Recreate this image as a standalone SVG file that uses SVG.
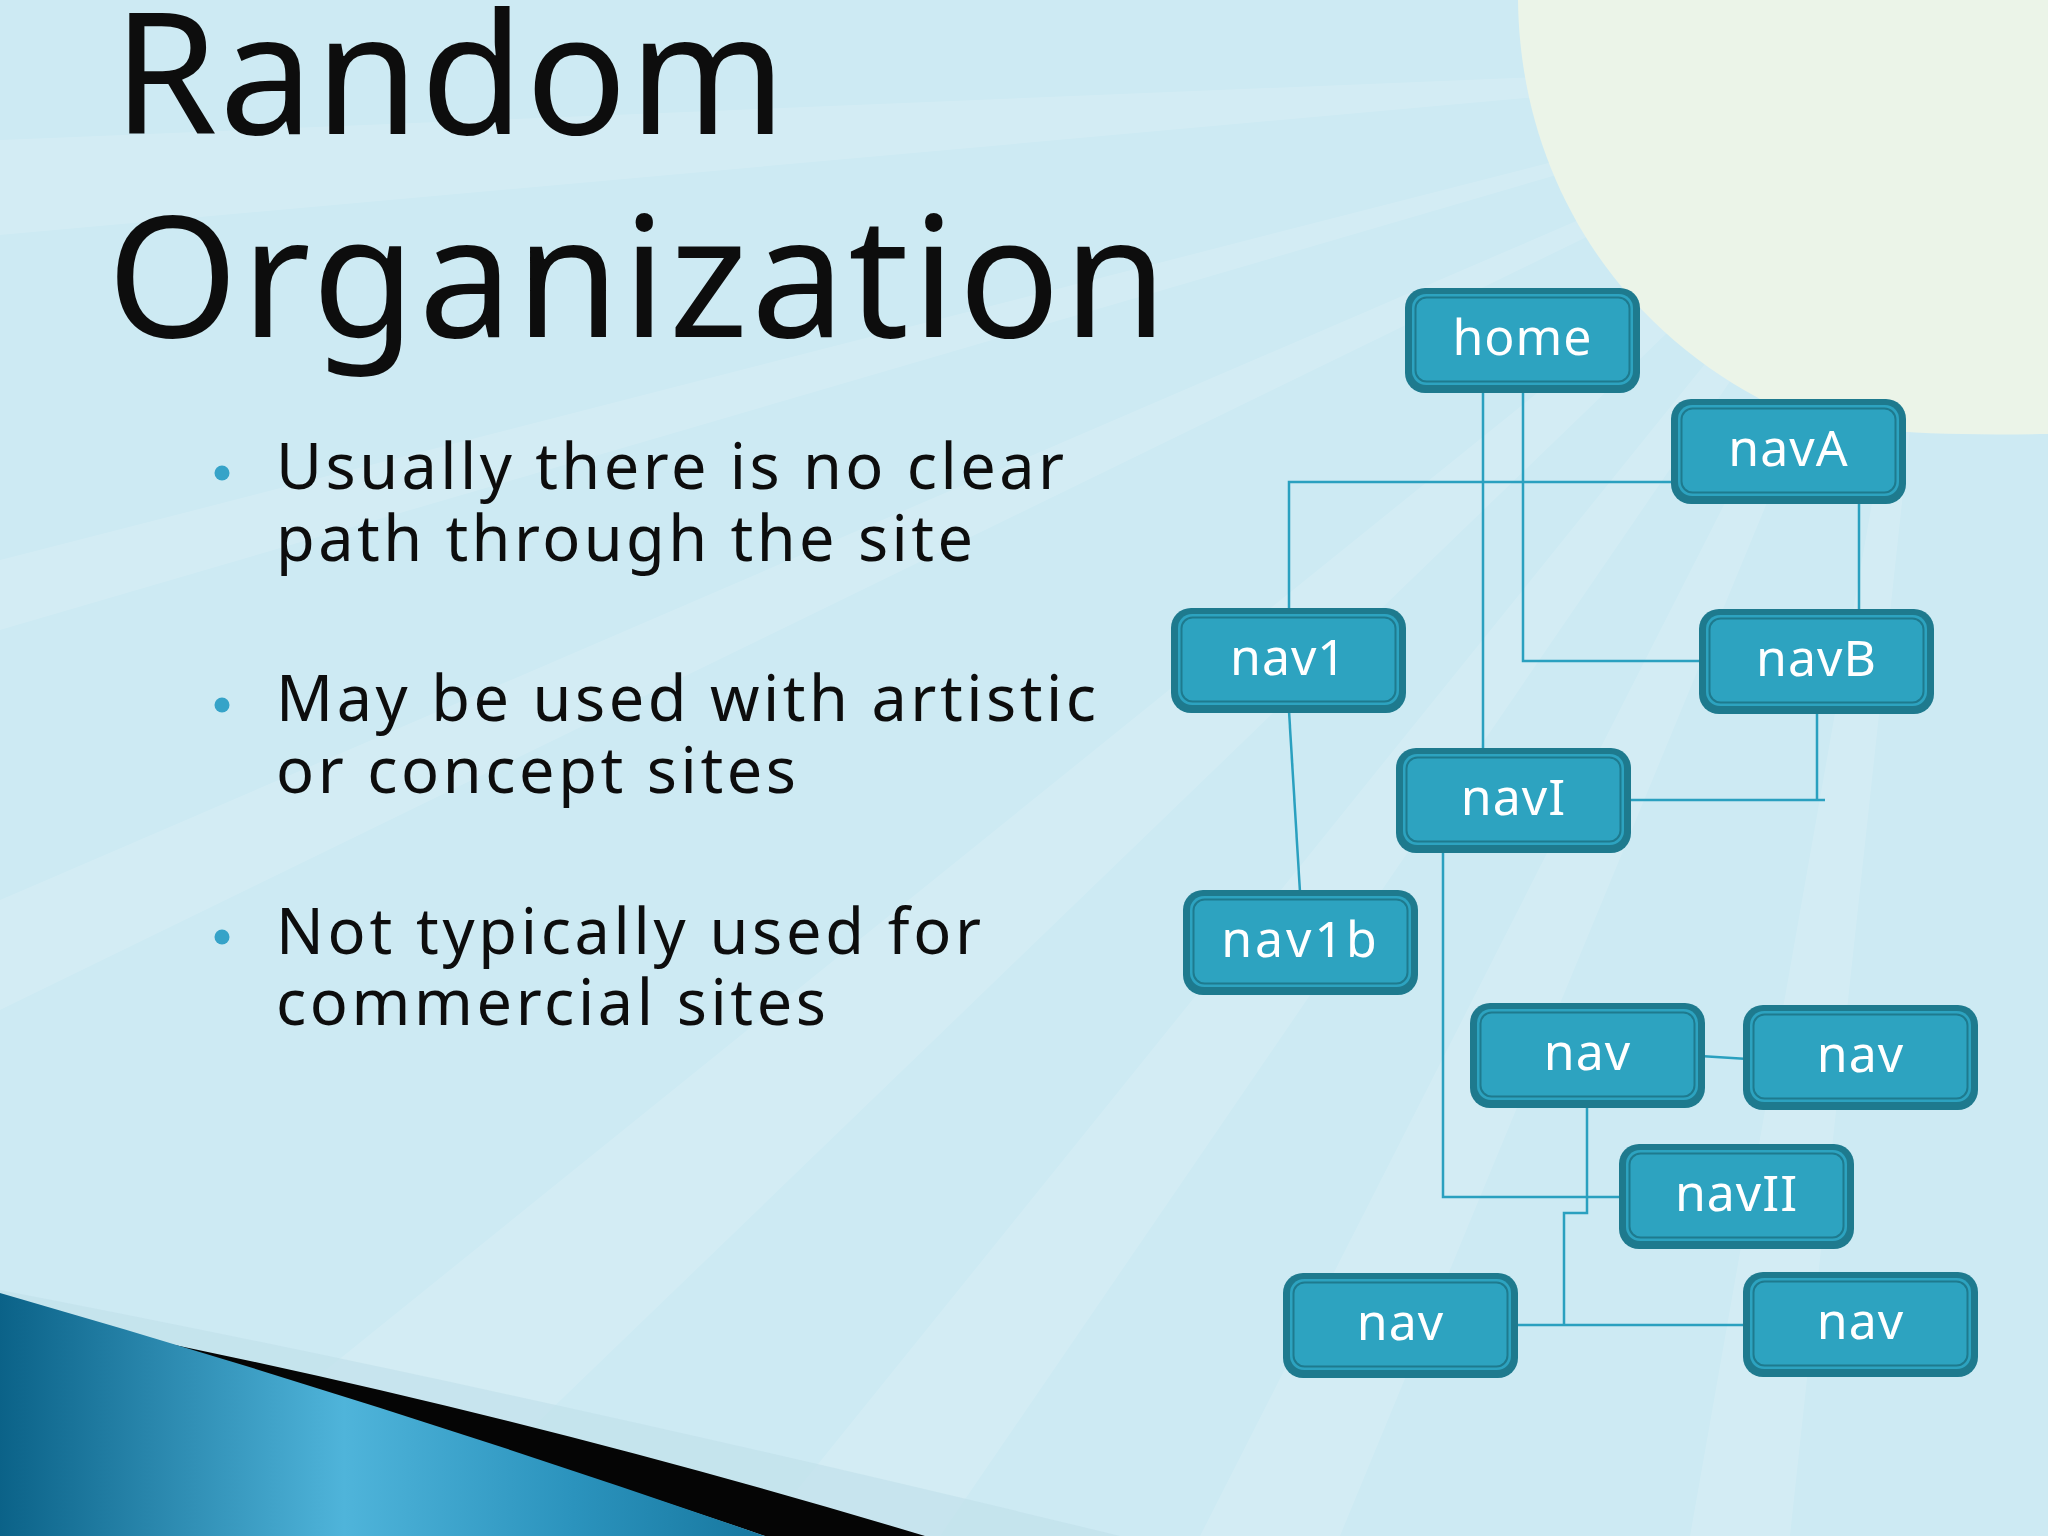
<svg xmlns="http://www.w3.org/2000/svg" width="2048" height="1536" viewBox="0 0 2048 1536">
<defs>
<style>
.title{font-family:"Noto Sans","Open Sans","DejaVu Sans",sans-serif;font-size:168px;fill:#0d0d0d}
.bul{font-family:"Noto Sans","Open Sans","DejaVu Sans",sans-serif;font-size:63px;fill:#0d0d0d}
.dot{fill:#36a3c8}
.node .o{fill:#1e7a8e}
.node .i{fill:#2da3c0}
.node .r{fill:none;stroke:#1e7a8e;stroke-width:2}
.node text{font-family:"Noto Sans","Open Sans","DejaVu Sans",sans-serif;font-size:50px;fill:#ffffff;text-anchor:middle;letter-spacing:1px}
.edges path{fill:none;stroke:#2aa0bf;stroke-width:2.5}
.ray{fill:#ffffff;opacity:0.13}
</style>
<linearGradient id="swoosh" x1="0" y1="0" x2="1" y2="0">
<stop offset="0" stop-color="#0b6288"/>
<stop offset="0.45" stop-color="#4fb4da"/>
<stop offset="0.75" stop-color="#2b93bd"/>
<stop offset="1" stop-color="#17779f"/>
</linearGradient>
</defs>
<rect x="0" y="0" width="2048" height="1536" fill="#cdeaf3"/>
<g id="rays">
<polygon class="ray" points="1950,60 0,140 0,235"/>
<polygon class="ray" points="1950,60 0,560 0,630"/>
<polygon class="ray" points="1950,60 0,900 0,1010"/>
<polygon class="ray" points="1950,60 120,1536 420,1536"/>
<polygon class="ray" points="1950,60 760,1536 940,1536"/>
<polygon class="ray" points="1950,60 1200,1536 1340,1536"/>
<polygon class="ray" points="1950,60 1690,1536 1790,1536"/>
</g>
<path id="sun" d="M1518,0 C1520,180 1620,330 1772,405 C1840,432 1920,436 2048,434 L2048,0 Z" fill="#ebf4e8"/>
<g id="swoosh-shape">
<path d="M0,1290 Q520,1390 1120,1536 L0,1536 Z" fill="#bfe0ea" opacity="0.6"/>
<path d="M90,1328 Q500,1408 925,1536 L765,1536 Q380,1405 90,1328 Z" fill="#050505"/>
<path d="M0,1293 Q380,1402 765,1536 L0,1536 Z" fill="url(#swoosh)"/>
</g>
<g id="title">
<text class="title" x="113" y="134" textLength="673" lengthAdjust="spacing">Random</text>
<text class="title" x="107" y="337" textLength="1060" lengthAdjust="spacing">Organization</text>
</g>
<g id="bullets">
<circle class="dot" cx="222" cy="473" r="7.5"/>
<text class="bul" x="276" y="489" textLength="788" lengthAdjust="spacing">Usually there is no clear</text>
<text class="bul" x="276" y="561" textLength="697" lengthAdjust="spacing">path through the site</text>
<circle class="dot" cx="222" cy="705" r="7.5"/>
<text class="bul" x="276" y="721" textLength="820" lengthAdjust="spacing">May be used with artistic</text>
<text class="bul" x="276" y="793" textLength="520" lengthAdjust="spacing">or concept sites</text>
<circle class="dot" cx="222" cy="937" r="7.5"/>
<text class="bul" x="276" y="954" textLength="705" lengthAdjust="spacing">Not typically used for</text>
<text class="bul" x="276" y="1025" textLength="550" lengthAdjust="spacing">commercial sites</text>
</g>
<g class="edges" id="connectors">
<path d="M1483,390 V750"/>
<path d="M1523,390 V661 H1706"/>
<path d="M1684,482 H1289 V610"/>
<path d="M1859,500 V612"/>
<path d="M1817,712 V800 M1630,800 H1825"/>
<path d="M1289,711 L1300,892"/>
<path d="M1443,851 V1197 H1625"/>
<path d="M1700,1056 L1748,1059"/>
<path d="M1587,1107 V1213 H1564 V1325"/>
<path d="M1513,1325 H1748"/>
</g>
<g id="n-home" class="node" transform="translate(1405,288)"><rect class="o" width="235" height="105" rx="20"/><rect class="i" x="7" y="6" width="221" height="91" rx="14"/><rect class="r" x="10.5" y="9.5" width="214" height="84" rx="11"/><text x="117.5" y="67">home</text></g>
<g id="n-navA" class="node" transform="translate(1671,399)"><rect class="o" width="235" height="105" rx="20"/><rect class="i" x="7" y="6" width="221" height="91" rx="14"/><rect class="r" x="10.5" y="9.5" width="214" height="84" rx="11"/><text x="117.5" y="67">navA</text></g>
<g id="n-nav1" class="node" transform="translate(1171,608)"><rect class="o" width="235" height="105" rx="20"/><rect class="i" x="7" y="6" width="221" height="91" rx="14"/><rect class="r" x="10.5" y="9.5" width="214" height="84" rx="11"/><text x="117.5" y="67">nav1</text></g>
<g id="n-navB" class="node" transform="translate(1699,609)"><rect class="o" width="235" height="105" rx="20"/><rect class="i" x="7" y="6" width="221" height="91" rx="14"/><rect class="r" x="10.5" y="9.5" width="214" height="84" rx="11"/><text x="117.5" y="67">navB</text></g>
<g id="n-navI" class="node" transform="translate(1396,748)"><rect class="o" width="235" height="105" rx="20"/><rect class="i" x="7" y="6" width="221" height="91" rx="14"/><rect class="r" x="10.5" y="9.5" width="214" height="84" rx="11"/><text x="117.5" y="67">navI</text></g>
<g id="n-nav1b" class="node" transform="translate(1183,890)"><rect class="o" width="235" height="105" rx="20"/><rect class="i" x="7" y="6" width="221" height="91" rx="14"/><rect class="r" x="10.5" y="9.5" width="214" height="84" rx="11"/><text x="117.5" y="67" style="letter-spacing:3px">nav1b</text></g>
<g id="n-nav-mid-left" class="node" transform="translate(1470,1003)"><rect class="o" width="235" height="105" rx="20"/><rect class="i" x="7" y="6" width="221" height="91" rx="14"/><rect class="r" x="10.5" y="9.5" width="214" height="84" rx="11"/><text x="117.5" y="67">nav</text></g>
<g id="n-nav-mid-right" class="node" transform="translate(1743,1005)"><rect class="o" width="235" height="105" rx="20"/><rect class="i" x="7" y="6" width="221" height="91" rx="14"/><rect class="r" x="10.5" y="9.5" width="214" height="84" rx="11"/><text x="117.5" y="67">nav</text></g>
<g id="n-navII" class="node" transform="translate(1619,1144)"><rect class="o" width="235" height="105" rx="20"/><rect class="i" x="7" y="6" width="221" height="91" rx="14"/><rect class="r" x="10.5" y="9.5" width="214" height="84" rx="11"/><text x="117.5" y="67">navII</text></g>
<g id="n-nav-bot-left" class="node" transform="translate(1283,1273)"><rect class="o" width="235" height="105" rx="20"/><rect class="i" x="7" y="6" width="221" height="91" rx="14"/><rect class="r" x="10.5" y="9.5" width="214" height="84" rx="11"/><text x="117.5" y="67">nav</text></g>
<g id="n-nav-bot-right" class="node" transform="translate(1743,1272)"><rect class="o" width="235" height="105" rx="20"/><rect class="i" x="7" y="6" width="221" height="91" rx="14"/><rect class="r" x="10.5" y="9.5" width="214" height="84" rx="11"/><text x="117.5" y="67">nav</text></g>
</svg>
